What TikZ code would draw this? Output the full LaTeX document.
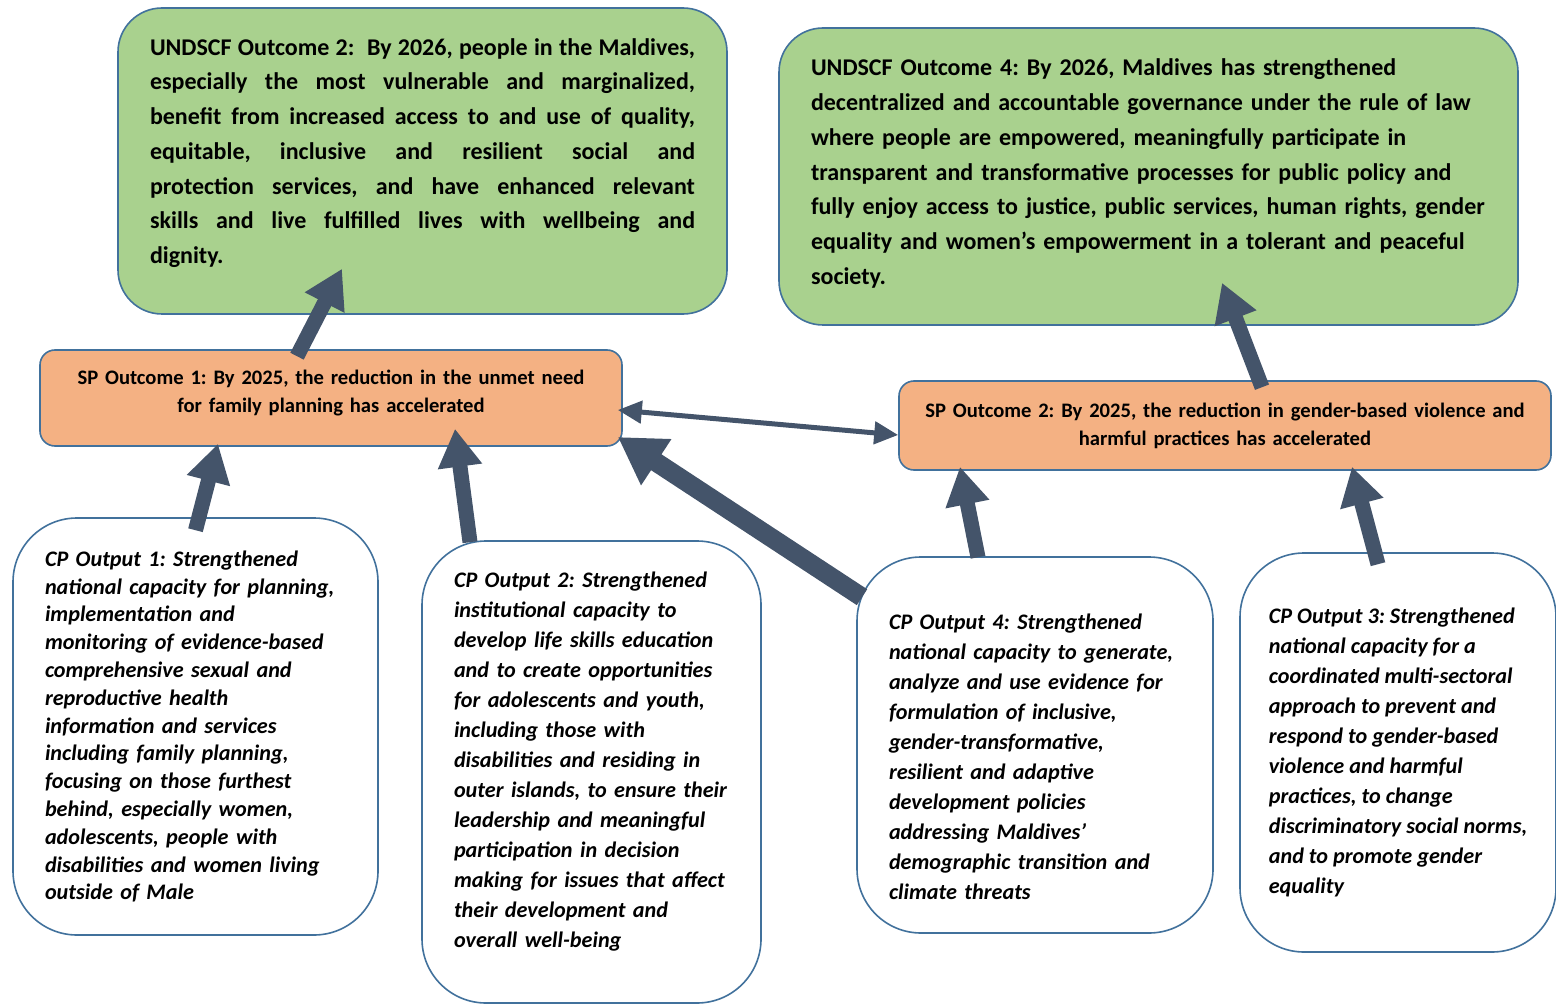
\documentclass[tikz,border=0pt]{standalone}
\usepackage{fontspec}
\setmainfont{Carlito}
\usetikzlibrary{arrows.meta}
\definecolor{boxline}{HTML}{41719C}
\definecolor{outgreen}{HTML}{A9D18E}
\definecolor{sporange}{HTML}{F4B183}
\definecolor{arrowgray}{HTML}{44546A}
\frenchspacing

\begin{document}
\begin{tikzpicture}
  [x=0.5pt,y=-0.5pt,every node/.style={draw=boxline,line width=0.8pt,inner xsep=16pt,inner ysep=0pt}]
  \tikzstyle{undscf} = [fill=outgreen,rounded corners=22pt,font=\fontsize{12}{17.35}\selectfont\bfseries]
  \tikzstyle{spout} = [fill=sporange,rounded corners=7.5pt,align=center,inner xsep=6pt,font=\fontsize{10.3}{14}\selectfont\bfseries]
  \tikzstyle{cpout} = [fill=white,rounded corners=32pt,align=left,font=\fontsize{11.1}{15}\selectfont\bfseries\itshape]
  \tikzstyle{link} = [draw=arrowgray,line width=7.5pt,-{Triangle[width=21pt,length=19pt]}]
  \useasboundingbox (0,0) rectangle (1556,1005);

  \node[undscf,text width=272.5pt,align=justify,minimum height=153pt] (g1) at (422.5,161)
    {UNDSCF Outcome 2:\ \ By 2026, people in the Maldives,\linebreak
     especially the most vulnerable and marginalized,\linebreak
     benefit from increased access to and use of quality,\linebreak
     equitable, inclusive and resilient social and\linebreak
     protection services, and have enhanced relevant\linebreak
     skills and live fulfilled lives with wellbeing and\linebreak
     dignity.\par\vspace{8pt}\hrule height 0pt};
  \node[undscf,text width=337.5pt,align=left,minimum height=148.5pt] (g2) at (1148.5,176.5)
    {UNDSCF Outcome 4: By 2026, Maldives has strengthened\\
     decentralized and accountable governance under the rule of law\\
     where people are empowered, meaningfully participate in\\
     transparent and transformative processes for public policy and\\
     fully enjoy access to justice, public services, human rights, gender\\
     equality and women’s empowerment in a tolerant and peaceful\\
     society.\par\vspace{3pt}\hrule height 0pt};

  \node[spout,text width=279pt,minimum height=48pt] (o1) at (331,398)
    {SP Outcome 1: By 2025, the reduction in the unmet need\\ for family planning has accelerated\par\vspace{5pt}\hrule height 0pt};
  \node[spout,text width=314pt,minimum height=44.5pt] (o2) at (1225,425.5)
    {SP Outcome 2: By 2025, the reduction in gender-based violence and\\ harmful practices has accelerated};

  \node[cpout,text width=150.5pt,minimum height=208.5pt,font=\fontsize{11.1}{13.9}\selectfont\bfseries\itshape] (c1) at (195.5,726.5)
    {CP Output 1: Strengthened\\ national capacity for planning,\\ implementation and\\
     monitoring of evidence-based\\ comprehensive sexual and\\ reproductive health\\
     information and services\\ including family planning,\\ focusing on those furthest\\
     behind, especially women,\\ adolescents, people with\\ disabilities and women living\\
     outside of Male};
  \node[cpout,text width=137.5pt,minimum height=231pt] (c2) at (591.5,772)
    {CP Output 2: Strengthened\\ institutional capacity to\\ develop life skills education\\
     and to create opportunities\\ for adolescents and youth,\\ including those with\\
     disabilities and residing in\\ outer islands, to ensure their\\ leadership and meaningful\\
     participation in decision\\ making for issues that affect\\ their development and\\
     overall well-being\par\vspace{10pt}\hrule height 0pt};
  \node[cpout,text width=146pt,minimum height=188pt] (c4) at (1035,745)
    {\hrule height 0pt\vspace{12pt}CP Output 4: Strengthened\\ national capacity to generate,\\ analyze and use evidence for\\
     formulation of inclusive,\\ gender-transformative,\\ resilient and adaptive\\
     development policies\\ addressing Maldives’\\ demographic transition and\\
     climate threats};
  \node[cpout,inner xsep=12pt,minimum width=158pt,minimum height=199.5pt] (c3) at (1398,752.5)
    {CP Output 3: Strengthened\\ national capacity for a\\ coordinated multi-sectoral\\
     approach to prevent and\\ respond to gender-based\\ violence and harmful\\
     practices, to change\\ discriminatory social norms,\\ and to promote gender\\
     equality};

  \foreach \from/\fx/\fy/\to/\tx/\ty in {o1.north/-17/-3.5/g1.south/-40.25/23,
      c1.north/0/-6.5/o1.south/-56.5/1.5, c2.north/-60.75/-1/o1.south/62/9,
      c4.north/-28.5/-0.5/o2.south/-132.5/2, c3.north/-10/-6/o2.south/63.5/2,
      o2.north/18.5/-3.5/g2.south/36.75/21.5}
    \draw[link] ([xshift=\fx pt,yshift=\fy pt]\from) -- ([xshift=\tx pt,yshift=\ty pt]\to);
  \draw[link,line width=9.5pt,-{Triangle[width=26pt,length=23pt]}]
    ([xshift=-86.5pt,yshift=-20.5pt]c4.north) -- ([xshift=-2.5pt,yshift=-19.5pt]o1.east);
  \draw[link,line width=2.5pt,{Triangle[width=11pt,length=12pt]}-{Triangle[width=11pt,length=12pt]}]
    ([xshift=-2.5pt,yshift=-6pt]o1.east) -- ([yshift=-4.75pt]o2.west);

\end{tikzpicture}
\end{document}
